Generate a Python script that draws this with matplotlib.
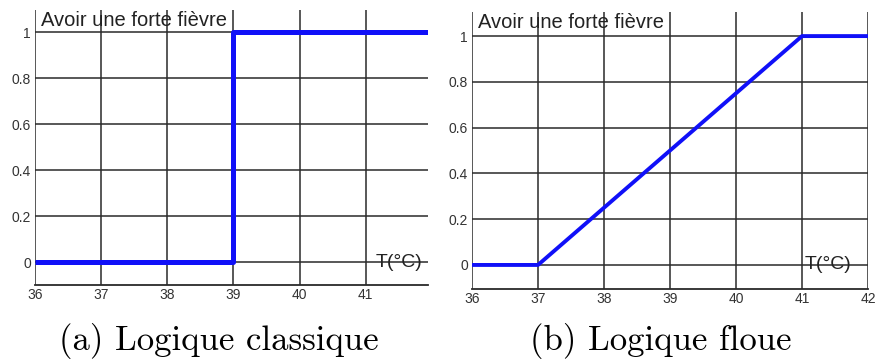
import matplotlib
matplotlib.use("Agg")

import matplotlib.pyplot as plt

# membership functions "Avoir une forte fièvre"
temp_classic = [36, 39, 39, 42]
mu_classic = [0, 0, 1, 1]
temp_fuzzy = [36, 37, 41, 42]
mu_fuzzy = [0, 0, 1, 1]

x_ticks_left = [36, 37, 38, 39, 40, 41]
x_ticks_right = [36, 37, 38, 39, 40, 41, 42]
y_ticks = [0, 0.2, 0.4, 0.6, 0.8, 1]
y_labels = ["0", "0.2", "0.4", "0.6", "0.8", "1"]
title = "Avoir une forte fièvre"
unit_label = "T(°C)"
captions = ["(a) Logique classique", "(b) Logique floue"]

BLUE = "#1010f8"
GRID = "#2a2a2a"
TEXT = "#222222"

plt.rcParams["font.family"] = ["Liberation Sans", "DejaVu Sans"]

fig = plt.figure(figsize=(8.75, 3.62), dpi=100)


def draw_panel(rect, xs, ys, xticks, xmax, ylim, lw, unit_x):
    ax = fig.add_axes(rect)
    ax.plot(xs, ys, color=BLUE, lw=lw, solid_capstyle="butt", zorder=3)
    ax.set_xlim(36, xmax)
    ax.set_ylim(*ylim)
    ax.set_xticks(xticks)
    ax.set_yticks(y_ticks)
    ax.set_yticklabels(y_labels)
    ax.grid(True, color=GRID, lw=1.1)
    for side in ["top", "right", "left"]:
        ax.spines[side].set_visible(False)
    ax.spines["bottom"].set_color(GRID)
    ax.spines["bottom"].set_linewidth(1.3)
    ax.tick_params(length=0, labelsize=10, labelcolor="#333333")
    ax.tick_params(axis="x", pad=2)
    ax.tick_params(axis="y", pad=3)
    ax.text(0.016, 0.998, title, transform=ax.transAxes, fontsize=14.5,
            color=TEXT, ha="left", va="top")
    ax.text(unit_x, 0.0, unit_label, fontsize=14, color=TEXT,
            ha="right", va="center", zorder=4)
    return ax


ax1 = draw_panel([0.040, 0.2127, 0.449, 0.7597], temp_classic, mu_classic,
                 x_ticks_left, 41.94, (-0.1, 1.096), 3.6, 41.85)
ax2 = draw_panel([0.5394, 0.2017, 0.4526, 0.765], temp_fuzzy, mu_fuzzy,
                 x_ticks_right, 42, (-0.105, 1.105), 2.8, 41.75)

fig.text(219 / 875, 1 - 341 / 362, captions[0], family="cmr10", fontsize=25,
         ha="center", va="center")
fig.text(661 / 875, 1 - 341 / 362, captions[1], family="cmr10", fontsize=25,
         ha="center", va="center")

fig.savefig("out.png", dpi=100)
